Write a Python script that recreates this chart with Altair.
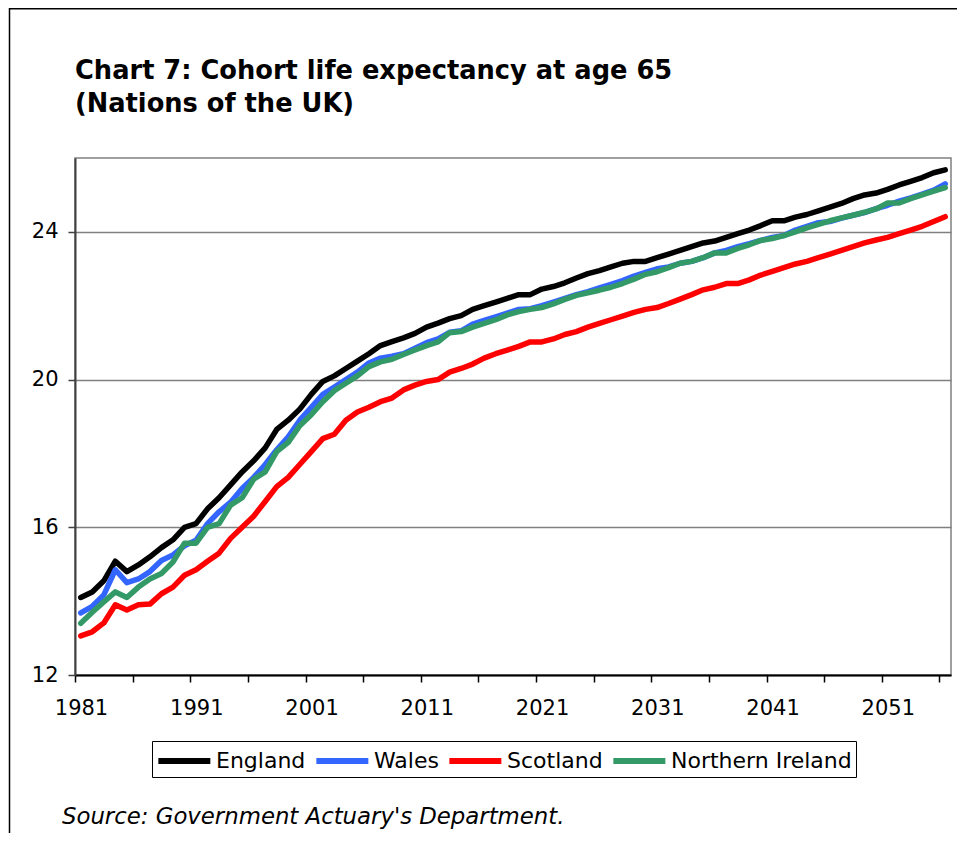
import altair as alt
import pandas as pd

years = list(range(1981, 2057))

england = [14.1, 14.25, 14.55, 15.08, 14.8, 14.98, 15.2, 15.45, 15.66, 16.0,
           16.1, 16.5, 16.8, 17.15, 17.5, 17.8, 18.15, 18.65, 18.9, 19.2,
           19.6, 19.95, 20.1, 20.3, 20.5, 20.7, 20.92, 21.03, 21.13, 21.25,
           21.42, 21.53, 21.65, 21.73, 21.9, 22.0, 22.1, 22.2, 22.3, 22.3,
           22.45, 22.52, 22.62, 22.75, 22.87, 22.95, 23.05, 23.15, 23.2, 23.2,
           23.3, 23.4, 23.5, 23.6, 23.7, 23.75, 23.85, 23.95, 24.05, 24.17,
           24.3, 24.3, 24.4, 24.47, 24.57, 24.67, 24.77, 24.9, 25.0, 25.05,
           25.15, 25.27, 25.37, 25.47, 25.6, 25.68]

wales = [13.68, 13.86, 14.17, 14.85, 14.5, 14.6, 14.8, 15.1, 15.25, 15.5,
         15.65, 16.1, 16.42, 16.68, 17.05, 17.35, 17.7, 18.1, 18.45, 18.9,
         19.25, 19.6, 19.8, 20.0, 20.2, 20.45, 20.58, 20.63, 20.7, 20.85,
         21.0, 21.1, 21.28, 21.32, 21.5, 21.6, 21.7, 21.8, 21.9, 21.92,
         22.0, 22.1, 22.2, 22.3, 22.38, 22.48, 22.58, 22.68, 22.8, 22.9,
         23.0, 23.05, 23.15, 23.2, 23.3, 23.43, 23.5, 23.6, 23.68, 23.77,
         23.85, 23.9, 24.05, 24.15, 24.25, 24.28, 24.37, 24.45, 24.52, 24.63,
         24.72, 24.83, 24.92, 25.02, 25.13, 25.3]

scotland = [13.06, 13.17, 13.41, 13.9, 13.76, 13.9, 13.92, 14.2, 14.38, 14.7,
            14.85, 15.08, 15.3, 15.7, 16.0, 16.3, 16.7, 17.1, 17.35, 17.7,
            18.05, 18.4, 18.52, 18.9, 19.12, 19.25, 19.4, 19.5, 19.72, 19.85,
            19.95, 20.0, 20.2, 20.3, 20.42, 20.58, 20.7, 20.8, 20.9, 21.02,
            21.02, 21.1, 21.22, 21.3, 21.42, 21.52, 21.62, 21.72, 21.82, 21.9,
            21.95, 22.06, 22.18, 22.3, 22.43, 22.5, 22.6, 22.6, 22.7, 22.83,
            22.93, 23.03, 23.13, 23.2, 23.3, 23.4, 23.5, 23.6, 23.7, 23.78,
            23.85, 23.95, 24.05, 24.15, 24.28, 24.41]

northern_ireland = [13.4, 13.7, 13.98, 14.25, 14.1, 14.38, 14.6, 14.75, 15.06, 15.57,
                    15.57, 16.0, 16.1, 16.6, 16.8, 17.3, 17.5, 18.05, 18.3, 18.75,
                    19.05, 19.4, 19.7, 19.9, 20.1, 20.35, 20.48, 20.55, 20.68, 20.8,
                    20.92, 21.02, 21.27, 21.3, 21.42, 21.52, 21.62, 21.75, 21.84, 21.9,
                    21.95, 22.05, 22.17, 22.28, 22.35, 22.42, 22.5, 22.6, 22.72, 22.85,
                    22.92, 23.03, 23.15, 23.2, 23.3, 23.43, 23.43, 23.55, 23.65, 23.77,
                    23.82, 23.9, 24.0, 24.11, 24.2, 24.3, 24.38, 24.45, 24.53, 24.62,
                    24.78, 24.78, 24.9, 25.0, 25.1, 25.2]

countries = ["England", "Wales", "Scotland", "Northern Ireland"]
colors = ["#000000", "#3366FF", "#FF0000", "#339966"]
title_lines = ["Chart 7: Cohort life expectancy at age 65", "(Nations of the UK)"]
source_text = "Source: Government Actuary's Department."
y_ticks = [12, 16, 20, 24]
y_domain = [12, 26]

rows = []
for name, vals in zip(countries, [england, wales, scotland, northern_ireland]):
    for yr, v in zip(years, vals):
        rows.append({"year": yr, "value": v, "country": name})
df = pd.DataFrame(rows)

x_domain = [years[0] - 0.5, years[-1] + 0.5]
tick_vals = [years[0] - 0.5 + 5 * i for i in range(16)]

FONT = "DejaVu Sans"

lines = alt.Chart(df).mark_line(
    strokeWidth=5.5, strokeCap="round", strokeJoin="round"
).encode(
    x=alt.X(
        "year:Q",
        scale=alt.Scale(domain=x_domain, nice=False, zero=False),
        axis=alt.Axis(
            values=tick_vals,
            labelExpr="(datum.value - 0.5) % 10 == 0 ? format(datum.value + 0.5, 'd') : ''",
            labelOffset=6, labelFlush=False, labelOverlap=False,
            grid=False, title=None, tickSize=7, tickColor="#000000", tickWidth=1.5,
            domainColor="#000000", domainWidth=2,
            labelFont=FONT, labelFontSize=21, labelColor="#000000", labelPadding=15,
        ),
    ),
    y=alt.Y(
        "value:Q",
        scale=alt.Scale(domain=y_domain, nice=False, zero=False),
        axis=alt.Axis(
            values=y_ticks, format="d", grid=True, gridColor="#808080", gridWidth=1.5,
            title=None, tickSize=7, tickColor="#404040", tickWidth=1.5,
            domainColor="#404040", domainWidth=2,
            labelFont=FONT, labelFontSize=21, labelColor="#000000", labelPadding=10,
        ),
    ),
    color=alt.Color(
        "country:N",
        scale=alt.Scale(domain=countries, range=colors),
        sort=countries,
        legend=alt.Legend(
            orient="none", legendX=77, legendY=583, direction="horizontal", columns=4,
            title=None, strokeColor="#000000", fillColor="#FFFFFF", padding=4,
            symbolType="M-1.05,0H2.95", symbolSize=676, symbolStrokeWidth=6,
            labelFont=FONT, labelFontSize=22, labelColor="#000000", labelOffset=28,
            labelLimit=400, columnPadding=-2,
        ),
    ),
)

source = alt.Chart(pd.DataFrame({"t": [source_text]})).mark_text(
    font=FONT, fontSize=22.8, fontStyle="italic", align="left", baseline="middle", color="#000000"
).encode(text="t:N", x=alt.value(-13), y=alt.value(659))

frame = alt.Chart(pd.DataFrame({"k": [0]})).mark_rect(
    fillOpacity=0, stroke="#000000", strokeWidth=1.5
).encode(x=alt.value(-65.5), x2=alt.value(900), y=alt.value(-149.3), y2=alt.value(720))

chart = alt.layer(frame, lines, source).properties(
    width=876, height=517,
    title=alt.Title(
        text=title_lines, anchor="start", frame="group", font=FONT, fontSize=25.7,
        fontWeight="bold", color="#000000", offset=-110, lineHeight=33,
    ),
    autosize=alt.AutoSizeParams(type="none"),
    padding={"left": 67, "top": 150, "right": 6, "bottom": 158},
).configure_view(stroke="#808080", strokeWidth=1.5)

chart.save("out.html", embed_options={"renderer": "svg", "actions": False})
